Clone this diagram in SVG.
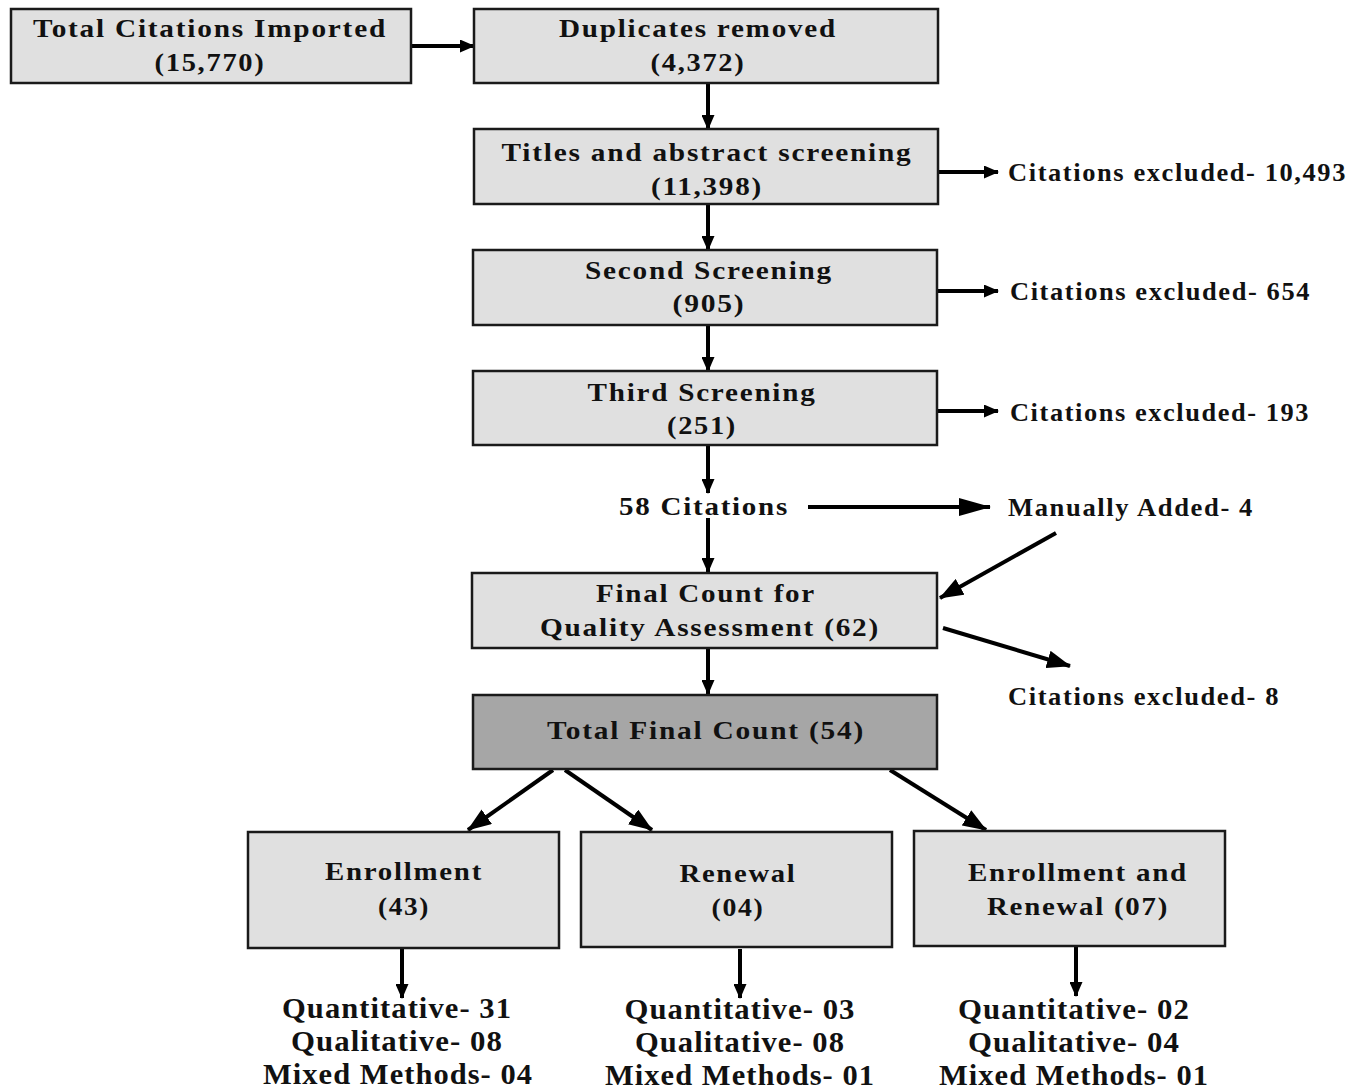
<svg xmlns="http://www.w3.org/2000/svg" width="1364" height="1091" viewBox="0 0 1364 1091">
<style>
.box{fill:#e0e0e0;stroke:#1a1a1a;stroke-width:2.5}
.dark{fill:#a6a6a6}
.t{font-family:"Liberation Serif","Times New Roman",serif;font-weight:bold;font-size:25px;fill:#111;text-anchor:middle;letter-spacing:1.5px}
.s{text-anchor:start}
.b{font-size:29px;letter-spacing:1px}
.c{stroke:#000;stroke-width:4;fill:none}
</style>
<defs>
<marker id="ah" markerWidth="15" markerHeight="13" refX="14" refY="6.5" orient="auto" markerUnits="userSpaceOnUse"><path d="M0,0 L15,6.5 L0,13 Z" fill="#000"/></marker>
<marker id="am" markerWidth="24" markerHeight="18" refX="23" refY="9" orient="auto" markerUnits="userSpaceOnUse"><path d="M0,0 L24,9 L0,18 Z" fill="#000"/></marker>
<marker id="al" markerWidth="32" markerHeight="18" refX="31" refY="9" orient="auto" markerUnits="userSpaceOnUse"><path d="M0,0 L32,9 L0,18 Z" fill="#000"/></marker>
</defs>
<g id="connectors">
<line class="c" x1="411" y1="46" x2="474" y2="46" marker-end="url(#ah)"/>
<line class="c" x1="708" y1="83" x2="708" y2="129" marker-end="url(#ah)"/>
<line class="c" x1="708" y1="204" x2="708" y2="250" marker-end="url(#ah)"/>
<line class="c" x1="708" y1="325" x2="708" y2="371" marker-end="url(#ah)"/>
<line class="c" x1="708" y1="445" x2="708" y2="493" marker-end="url(#ah)"/>
<line class="c" x1="708" y1="518" x2="708" y2="572" marker-end="url(#ah)"/>
<line class="c" x1="708" y1="648" x2="708" y2="694" marker-end="url(#ah)"/>
<line class="c" x1="938" y1="172" x2="998" y2="172" marker-end="url(#ah)"/>
<line class="c" x1="937" y1="291" x2="998" y2="291" marker-end="url(#ah)"/>
<line class="c" x1="937" y1="411" x2="998" y2="411" marker-end="url(#ah)"/>
<line class="c" x1="808" y1="507" x2="990" y2="507" stroke-width="6" marker-end="url(#al)"/>
<line class="c" x1="1056" y1="533" x2="940" y2="598" marker-end="url(#am)"/>
<line class="c" x1="943" y1="628" x2="1070" y2="666" marker-end="url(#am)"/>
<line class="c" x1="553" y1="770" x2="468" y2="830" marker-end="url(#am)"/>
<line class="c" x1="565" y1="770" x2="652" y2="830" marker-end="url(#am)"/>
<line class="c" x1="890" y1="770" x2="986" y2="830" marker-end="url(#am)"/>
<line class="c" x1="402" y1="949" x2="402" y2="998" marker-end="url(#ah)"/>
<line class="c" x1="740" y1="949" x2="740" y2="998" marker-end="url(#ah)"/>
<line class="c" x1="1076" y1="947" x2="1076" y2="996" marker-end="url(#ah)"/>
</g>
<g id="n1"><rect class="box" x="11" y="9" width="400" height="74"/>
<text class="t" x="210" y="37" textLength="354" lengthAdjust="spacingAndGlyphs">Total Citations Imported</text>
<text class="t" x="210" y="71" textLength="111" lengthAdjust="spacingAndGlyphs">(15,770)</text></g>
<g id="n2"><rect class="box" x="474" y="9" width="464" height="74"/>
<text class="t" x="698" y="37" textLength="278" lengthAdjust="spacingAndGlyphs">Duplicates removed</text>
<text class="t" x="698" y="71" textLength="95" lengthAdjust="spacingAndGlyphs">(4,372)</text></g>
<g id="n3"><rect class="box" x="474" y="129" width="464" height="75"/>
<text class="t" x="707" y="161" textLength="411" lengthAdjust="spacingAndGlyphs">Titles and abstract screening</text>
<text class="t" x="707" y="195" textLength="112" lengthAdjust="spacingAndGlyphs">(11,398)</text></g>
<g id="x1"><text class="t s" x="1008" y="181" textLength="339" lengthAdjust="spacingAndGlyphs">Citations excluded- 10,493</text></g>
<g id="n4"><rect class="box" x="473" y="250" width="464" height="75"/>
<text class="t" x="709" y="279" textLength="248" lengthAdjust="spacingAndGlyphs">Second Screening</text>
<text class="t" x="709" y="312" textLength="73" lengthAdjust="spacingAndGlyphs">(905)</text></g>
<g id="x2"><text class="t s" x="1010" y="300" textLength="301" lengthAdjust="spacingAndGlyphs">Citations excluded- 654</text></g>
<g id="n5"><rect class="box" x="473" y="371" width="464" height="74"/>
<text class="t" x="702" y="401" textLength="229" lengthAdjust="spacingAndGlyphs">Third Screening</text>
<text class="t" x="702" y="434" textLength="70" lengthAdjust="spacingAndGlyphs">(251)</text></g>
<g id="x3"><text class="t s" x="1010" y="421" textLength="300" lengthAdjust="spacingAndGlyphs">Citations excluded- 193</text></g>
<g id="n58"><text class="t" x="704" y="515" textLength="170" lengthAdjust="spacingAndGlyphs">58 Citations</text></g>
<g id="man"><text class="t s" x="1008" y="516" textLength="246" lengthAdjust="spacingAndGlyphs">Manually Added- 4</text></g>
<g id="n6"><rect class="box" x="472" y="573" width="465" height="75"/>
<text class="t" x="706" y="602" textLength="220" lengthAdjust="spacingAndGlyphs">Final Count for</text>
<text class="t" x="710" y="636" textLength="340" lengthAdjust="spacingAndGlyphs">Quality Assessment (62)</text></g>
<g id="x4"><text class="t s" x="1008" y="705" textLength="272" lengthAdjust="spacingAndGlyphs">Citations excluded- 8</text></g>
<g id="n7"><rect class="box dark" x="473" y="695" width="464" height="74"/>
<text class="t" x="706" y="739" textLength="318" lengthAdjust="spacingAndGlyphs">Total Final Count (54)</text></g>
<g id="n8"><rect class="box" x="248" y="832" width="311" height="116"/>
<text class="t" x="404" y="880" textLength="158" lengthAdjust="spacingAndGlyphs">Enrollment</text>
<text class="t" x="404" y="915" textLength="52" lengthAdjust="spacingAndGlyphs">(43)</text></g>
<g id="n9"><rect class="box" x="581" y="832" width="311" height="115"/>
<text class="t" x="738" y="882" textLength="117" lengthAdjust="spacingAndGlyphs">Renewal</text>
<text class="t" x="738" y="916" textLength="53" lengthAdjust="spacingAndGlyphs">(04)</text></g>
<g id="n10"><rect class="box" x="914" y="831" width="311" height="115"/>
<text class="t" x="1078" y="881" textLength="220" lengthAdjust="spacingAndGlyphs">Enrollment and</text>
<text class="t" x="1078" y="915" textLength="182" lengthAdjust="spacingAndGlyphs">Renewal (07)</text></g>
<g id="r1">
<text class="t b" x="397" y="1018" textLength="230" lengthAdjust="spacingAndGlyphs">Quantitative- 31</text>
<text class="t b" x="397" y="1051" textLength="212" lengthAdjust="spacingAndGlyphs">Qualitative- 08</text>
<text class="t b" x="398" y="1084" textLength="270" lengthAdjust="spacingAndGlyphs">Mixed Methods- 04</text></g>
<g id="r2">
<text class="t b" x="740" y="1019" textLength="231" lengthAdjust="spacingAndGlyphs">Quantitative- 03</text>
<text class="t b" x="740" y="1052" textLength="210" lengthAdjust="spacingAndGlyphs">Qualitative- 08</text>
<text class="t b" x="740" y="1085" textLength="270" lengthAdjust="spacingAndGlyphs">Mixed Methods- 01</text></g>
<g id="r3">
<text class="t b" x="1074" y="1019" textLength="232" lengthAdjust="spacingAndGlyphs">Quantitative- 02</text>
<text class="t b" x="1074" y="1052" textLength="212" lengthAdjust="spacingAndGlyphs">Qualitative- 04</text>
<text class="t b" x="1074" y="1085" textLength="270" lengthAdjust="spacingAndGlyphs">Mixed Methods- 01</text></g>
</svg>
